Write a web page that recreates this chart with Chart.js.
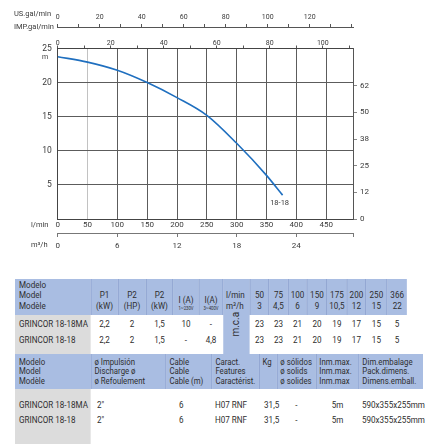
<!DOCTYPE html>
<html><head><meta charset="utf-8">
<script src="https://cdn.jsdelivr.net/npm/chart.js@4.4.1/dist/chart.umd.min.js"></script>
<style>
html,body{margin:0;padding:0;background:#fff;}
body{width:430px;height:444px;position:relative;overflow:hidden;font-family:Roboto,"Noto Sans",sans-serif;color:#333;}
#wrap{position:absolute;left:0;top:0;width:430px;height:260px;}
.tw{position:absolute;left:15px;transform:scaleX(0.85);transform-origin:0 0;}
#w1{top:279px;width:461.2px;}
#w2{top:354px;width:480px;}
table{border-collapse:collapse;table-layout:fixed;font-size:9.5px;line-height:10.5px;color:#2e2e2e;}
#t1{width:461.2px;}
#t2{width:480px;}
td{padding:0;white-space:nowrap;overflow:visible;}
.hd td{background:#a9bde2;border-left:1px solid #8ea2cf;}
.hd td:first-child{border-left:none;}
#t1 .hd td{height:32px;vertical-align:bottom;padding-bottom:4px;text-align:center;}
#t1 .hd td.l{text-align:left;padding-left:4.7px;}
#t1 .hd td.u{text-align:left;padding-left:3px;}
#t2 .hd td{height:32px;vertical-align:top;padding-top:3px;text-align:left;padding-left:3.5px;line-height:9.3px;font-size:9.2px;}
td.m{background:#dcdcdc;padding-left:4.7px;text-align:left;}
.c{text-align:center;}
.sub{font-size:5px;line-height:6px;display:block;}
.mca{background:#a9bde2;text-align:center;vertical-align:middle;}
.mca span{display:inline-block;transform:rotate(-90deg) scaleY(1.18);font-size:10px;}
#t1 tr.r1 td{height:14px;padding-top:4px;vertical-align:top;}
#t1 tr.r2 td{height:15px;vertical-align:middle;}
#t1 tr.r3 td{height:6px;}
#t2 tr.r1 td{height:13px;padding-top:11px;vertical-align:top;}
#t2 tr.r2 td{height:15px;vertical-align:middle;}
#t2 tr.r3 td{height:21px;}
</style>
</head><body>
<div id="wrap"><canvas id="c" width="430" height="260"></canvas></div>

<div class="tw" id="w1">
<table id="t1">
<colgroup><col style="width:89.41px"><col style="width:31.76px"><col style="width:32.94px"><col style="width:31.76px"><col style="width:30.59px"><col style="width:28.24px"><col style="width:31.76px"><col style="width:22.35px"><col style="width:22.35px"><col style="width:22.35px"><col style="width:23.53px"><col style="width:23.53px"><col style="width:22.35px"><col style="width:24.71px"><col style="width:23.53px"></colgroup>
<tr class="hd"><td class="l">Modelo<br>Model<br>Modèle</td><td>P1<br>(kW)</td><td>P2<br>(HP)</td><td>P2<br>(kW)</td><td>I (A)<span class="sub">1~230V</span></td><td>I(A)<span class="sub">3~400V</span></td><td class="u">l/min<br>m³/h</td><td>50<br>3</td><td>75<br>4,5</td><td>100<br>6</td><td>150<br>9</td><td>175<br>10,5</td><td>200<br>12</td><td>250<br>15</td><td>366<br>22</td></tr>
<tr class="r1"><td class="m">GRINCOR 18-18MA</td><td class="c">2,2</td><td class="c">2</td><td class="c">1,5</td><td class="c">10</td><td class="c">-</td><td class="mca" rowspan="3"><span>m.c.a</span></td><td class="c">23</td><td class="c">23</td><td class="c">21</td><td class="c">20</td><td class="c">19</td><td class="c">17</td><td class="c">15</td><td class="c">5</td></tr>
<tr class="r2"><td class="m">GRINCOR 18-18</td><td class="c">2,2</td><td class="c">2</td><td class="c">1,5</td><td class="c">-</td><td class="c">4,8</td><td class="c">23</td><td class="c">23</td><td class="c">21</td><td class="c">20</td><td class="c">19</td><td class="c">17</td><td class="c">15</td><td class="c">5</td></tr>
<tr class="r3"><td class="m"></td><td></td><td></td><td></td><td></td><td></td><td></td><td></td><td></td><td></td><td></td><td></td><td></td><td></td></tr>
</table>
</div>

<div class="tw" id="w2">
<table id="t2">
<colgroup><col style="width:89.41px"><col style="width:88.24px"><col style="width:54.12px"><col style="width:55.29px"><col style="width:21.18px"><col style="width:45.88px"><col style="width:50.59px"><col style="width:75.29px"></colgroup>
<tr class="hd"><td style="padding-left:4.7px">Modelo<br>Model<br>Modèle</td><td>ø Impulsión<br>Discharge ø<br>ø Refoulement</td><td>Cable<br>Cable<br>Cable (m)</td><td>Caract.<br>Features<br>Caractérist.</td><td>Kg</td><td>ø sólidos<br>ø solids<br>ø solides</td><td>Inm.max.<br>Inm.max.<br>Inm.max</td><td>Dim.embalage<br>Pack.dimens.<br>Dimens.emball.</td></tr>
<tr class="r1"><td class="m">GRINCOR 18-18MA</td><td style="padding-left:7px">2"</td><td style="padding-left:15.3px">6</td><td style="padding-left:3.5px">H07 RNF</td><td style="padding-left:6px">31,5</td><td class="c">-</td><td class="c">5m</td><td style="padding-left:3.5px">590x355x255mm</td></tr>
<tr class="r2"><td class="m">GRINCOR 18-18</td><td style="padding-left:7px">2"</td><td style="padding-left:15.3px">6</td><td style="padding-left:3.5px">H07 RNF</td><td style="padding-left:6px">31,5</td><td class="c">-</td><td class="c">5m</td><td style="padding-left:3.5px">590x355x255mm</td></tr>
<tr class="r3"><td class="m"></td><td></td><td></td><td></td><td></td><td></td><td></td><td></td></tr>
</table>
</div>

<script>
// ---- data ----
const curveLabel = '18-18';
const flowLpm = [0, 50, 100, 150, 200, 250, 300, 350, 377];
const headM   = [23.8, 23.0, 21.8, 20.0, 17.8, 15.2, 11.1, 6.4, 3.5];
// ---- tick labels ----
const lpmTicks  = [0, 50, 100, 150, 200, 250, 300, 350, 400, 450];
const m3hTicks  = [0, 6, 12, 18, 24];
const usTicks   = [0, 20, 40, 60, 80, 100, 120];
const impTicks  = [0, 20, 40, 60, 80, 100];
const headTicks = [0, 5, 10, 15, 20, 25];
const rightTickValues = [0, 12.5, 25, 37.5, 50, 62.5];
const rightTickLabels = ['0', '12', '25', '38', '50', '62'];

const LPM_MAX = 495;
const tickFont = (s) => ({family: 'Roboto', size: s});
const TXT = '#3a3a3a';
const GRID = '#5c5c5c';

function setTicks(arr){ return (s) => { s.ticks = arr.map(v => ({value: v})); }; }
function range(step, max){ const a=[]; for(let v=0; v<=max+1e-9; v+=step) a.push(v); return a; }

const unitText = {
  id: 'unitText',
  afterDraw(chart){
    const c = chart.ctx; c.save();
    c.fillStyle = TXT; c.textBaseline = 'middle'; c.textAlign = 'left';
    c.font = '7.5px Roboto';
    c.fillText('US.gal/min', 14, 14);
    c.fillText('IMP.gal/min', 14, 27);
    c.fillText('l/min', 31, 225);
    c.fillText('m³/h', 31, 245);
    c.font = '7px Roboto';
    c.fillText('m', 42, 57);
    const xs = chart.scales.x, ys = chart.scales.y;
    const n = flowLpm.length - 1;
    c.textAlign = 'center';
    c.font = '7.5px Roboto';
    c.fillText(curveLabel, xs.getPixelForValue(flowLpm[n]) - 3, ys.getPixelForValue(headM[n]) + 8);
    c.restore();
  }
};

new Chart(document.getElementById('c'), {
  type: 'line',
  data: {
    datasets: [{
      data: flowLpm.map((x, i) => ({x, y: headM[i]})),
      xAxisID: 'x', yAxisID: 'y',
      borderColor: '#1f6fbf', borderWidth: 1.6,
      pointRadius: 0, fill: false, cubicInterpolationMode: 'monotone'
    }]
  },
  plugins: [unitText],
  options: {
    responsive: false, animation: false, devicePixelRatio: 1,
    layout: {padding: 0},
    plugins: {legend: {display: false}, tooltip: {enabled: false}},
    scales: {
      x: {
        type: 'linear', position: 'bottom', weight: 0, min: 0, max: LPM_MAX,
        afterBuildTicks: setTicks(lpmTicks),
        afterFit: (s) => { s.height = 14; },
        grid: {color: (ctx) => (ctx.tick && ctx.tick.value === 50) ? '#c2c2c2' : GRID, lineWidth: 1, drawTicks: false},
        border: {display: true, color: '#444'},
        ticks: {autoSkip: false, maxRotation: 0, padding: 1.5, font: tickFont(8), color: TXT}
      },
      x4: {
        type: 'linear', position: 'bottom', weight: 1, min: 0, max: LPM_MAX * 60 / 1000,
        afterBuildTicks: (s) => { s.ticks = m3hTicks.concat([LPM_MAX * 60 / 1000]).map(v => ({value: v})); },
        afterFit: (s) => { s.height = 27; },
        grid: {drawOnChartArea: false, drawTicks: true, tickLength: 4, color: '#777'},
        border: {display: true, color: '#777'},
        ticks: {autoSkip: false, maxRotation: 0, padding: 4, font: tickFont(8), color: TXT,
          callback: (v) => m3hTicks.includes(v) ? String(v) : ''}
      },
      x2: {
        type: 'linear', position: 'top', weight: 0, min: 0, max: 111.4,
        afterBuildTicks: setTicks(range(10, 111.4)),
        afterFit: (s) => { s.height = 21.5; },
        grid: {drawOnChartArea: false, drawTicks: true, tickLength: 3, color: '#555'},
        border: {display: true, color: '#444'},
        ticks: {autoSkip: false, maxRotation: 0, padding: -1.5, font: tickFont(7), color: TXT,
          callback: (v) => impTicks.includes(v) ? String(v) : ''}
      },
      x3: {
        type: 'linear', position: 'top', weight: 1, min: 0, max: 140.6,
        afterBuildTicks: setTicks(range(10, 140.6)),
        afterFit: (s) => { s.height = 27; },
        grid: {drawOnChartArea: false, drawTicks: true, tickLength: 3, color: '#555'},
        border: {display: true, color: '#555'},
        ticks: {autoSkip: false, maxRotation: 0, padding: 2.5, font: tickFont(7), color: TXT,
          callback: (v) => usTicks.includes(v) ? String(v) : ''}
      },
      y: {
        type: 'linear', position: 'left', min: 0, max: 25,
        afterBuildTicks: setTicks(headTicks),
        afterFit: (s) => { s.width = 57.7; },
        grid: {color: GRID, drawTicks: false},
        border: {display: true, color: '#444'},
        ticks: {padding: 6, font: tickFont(8.5), color: TXT, callback: (v) => v === 0 ? '' : String(v)}
      },
      y2: {
        type: 'linear', position: 'right', min: 0, max: 80,
        afterBuildTicks: setTicks(rightTickValues),
        afterFit: (s) => { s.width = 77; },
        grid: {drawOnChartArea: false, drawTicks: true, tickLength: 4, color: '#888'},
        border: {display: true, color: '#555'},
        ticks: {padding: 3, font: tickFont(8), color: TXT, callback: (v, i) => rightTickLabels[i]}
      }
    }
  }
});
</script>
</body></html>
